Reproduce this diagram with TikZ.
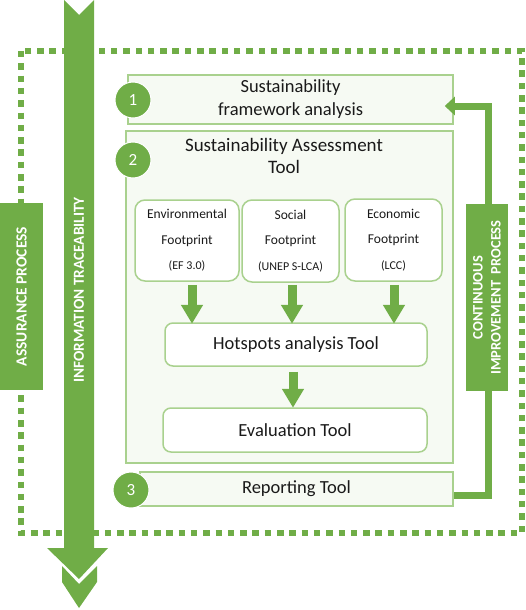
\documentclass[tikz,border=0pt]{standalone}
\usepackage{fontspec}
\setmainfont{Carlito}
\usetikzlibrary{arrows.meta,calc}
\definecolor{gr}{HTML}{70AD47}
\definecolor{lgr}{HTML}{A9D18E}
\definecolor{pale}{HTML}{F6FAF3}
\definecolor{ink}{HTML}{1A1A1A}
\tikzset{
  pbox/.style={draw=lgr, line width=1.5pt, fill=pale, inner sep=0pt, text=ink, align=center},
  rbox/.style={draw=lgr, line width=1.5pt, fill=white, inner sep=0pt, text=ink, align=center},
  circ/.style={circle, fill=gr, draw=white, line width=1pt, minimum size=36pt, inner sep=0pt, text=white, font=\fontsize{17}{17}\selectfont},
  gbox/.style={fill=gr, inner sep=0pt, text=white, align=center, rotate=90},
  fatarrow/.style={draw=gr, line width=9pt, -{Triangle[width=21pt,length=19pt]}},
  titlefont/.style={font=\fontsize{18.5}{23}\selectfont},
  fpfont/.style={font=\fontsize{13.5}{25.5}\selectfont},
}
\newcommand{\subtxt}[1]{{\fontsize{12}{25.5}\selectfont #1}}
\begin{document}
\begin{tikzpicture}[x=1pt,y=-1pt]
\useasboundingbox (0,0) rectangle (525,610);
% dotted frame
\draw[gr, line width=6.5pt, dash pattern=on 6.5pt off 5.8pt] (21,51) rectangle (522,533);
% assurance box
\node[gbox, minimum width=187pt, minimum height=43pt, font=\bfseries\fontsize{15.5}{15.5}\selectfont] (ap) at (21.5,296.5) {ASSURANCE PROCESS};
% big arrow
\fill[gr] (64,0) -- (79,15) -- (94,0) -- (94,548) -- (108,548) -- (79,579) -- (47,548) -- (64,548) -- cycle;
\fill[gr] (62,566) -- (79,584) -- (97,566) -- (97,582) -- (79,608) -- (62,582) -- cycle;
\node[rotate=90, text=white, font=\bfseries\fontsize{15.3}{15.3}\selectfont] (it) at (79,290) {INFORMATION TRACEABILITY};
% boxes
\node[pbox, minimum width=325pt, minimum height=49pt, titlefont] (b1) at (290.5,99.5) {Sustainability\\framework analysis};
\node[pbox, minimum width=327pt, minimum height=332pt] (b2) at (289.5,297) {};
\node[font=\fontsize{19}{22}\selectfont, text=ink, align=center, inner sep=0pt] (t2) at (284,156) {Sustainability Assessment\\Tool};
\node[rbox, rounded corners=10pt, minimum width=104pt, minimum height=81pt, fpfont] (env) at (187,240.5) {Environmental\\Footprint\\\subtxt{(EF 3.0)}};
\node[rbox, rounded corners=10pt, minimum width=97pt, minimum height=82pt, fpfont] (soc) at (290.5,241) {Social\\Footprint\\\subtxt{(UNEP S-LCA)}};
\node[rbox, rounded corners=10pt, minimum width=97pt, minimum height=82pt, fpfont] (eco) at (393.5,240) {Economic\\Footprint\\\subtxt{(LCC)}};
\node[rbox, rounded corners=8pt, minimum width=262pt, minimum height=43pt, titlefont] (hot) at (296,344.5) {Hotspots analysis Tool};
\node[rbox, rounded corners=8pt, minimum width=264pt, minimum height=44pt, titlefont] (eval) at (295,430) {Evaluation Tool};
\node[pbox, minimum width=313pt, minimum height=34pt, titlefont] (b3) at (296.5,489) {Reporting Tool};
% arrows
\draw[fatarrow] ($(env.south)+(5,3)$) -- ($(env.south)+(5,42)$);
\draw[fatarrow] ($(soc.south)+(1.5,2)$) -- ($(soc.south)+(1.5,41)$);
\draw[fatarrow] ($(eco.south)+(0.5,3)$) -- ($(eco.south)+(0.5,42)$);
\draw[fatarrow] ($(hot.south)+(-3,5)$) -- ($(hot.south)+(-3,41)$);
% circles
\node[circ] (c1) at (133,100) {1};
\node[circ] (c2) at (133,160) {2};
\node[circ] (c3) at (131,490) {3};
% continuous improvement loop
\draw[gr, line width=7pt, -{Triangle[width=18pt,length=10pt]}] ([yshift=-6pt]b3.east) -| (488,106) -- ([shift={(-9pt,-6.5pt)}]b1.east);
\node[gbox, minimum width=187pt, minimum height=42pt, font=\bfseries\fontsize{14.5}{18}\selectfont] (ci) at (487,297.5) {CONTINUOUS\\IMPROVEMENT\ \ PROCESS};
\end{tikzpicture}
\end{document}
